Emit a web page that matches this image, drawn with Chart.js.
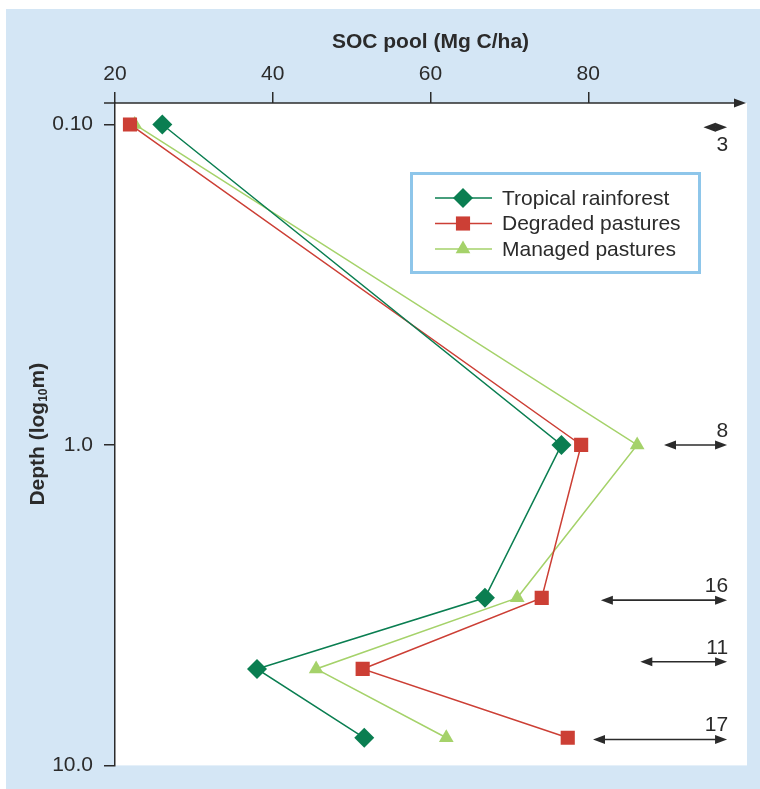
<!DOCTYPE html>
<html>
<head>
<meta charset="utf-8">
<script src="https://cdn.jsdelivr.net/npm/chart.js"></script>
<style>
  html, body { margin: 0; padding: 0; background: #fff; }
</style>
</head>
<body>
<canvas id="socChart" width="760" height="789"></canvas>
<script>
// depth (m) on a log axis, SOC pool (Mg C/ha) along the top
const depths = [0.1, 1.0, 3.0, 5.0, 8.2];
const rainforest = [26.0, 76.6, 66.9, 38.0, 51.6];
const degraded = [21.9, 79.1, 74.1, 51.4, 77.4];
const managed = [22.5, 86.2, 71.0, 45.5, 62.0];
const seriesNames = ['Tropical rainforest', 'Degraded pastures', 'Managed pastures'];

const xTicks = [20, 40, 60, 80];
const yTicks = [0.1, 1, 10];
const yTickLabels = ['0.10', '1.0', '10.0'];

// double arrows on the right, length = value
const rangeDepths = [0.102, 1.0, 3.05, 4.75, 8.3];
const rangeValues = [3, 8, 16, 11, 17];
const rangeEnd = 97.6;

const FONT = '"Liberation Sans", Arial, Helvetica, sans-serif';
const INK = '#2b2b2b';
Chart.defaults.font.family = FONT;
Chart.defaults.color = INK;

const toPoints = vals => vals.map((v, i) => ({ x: v, y: depths[i] }));

const backdrop = {
    id: 'backdrop',
    beforeDraw(chart) {
        const { ctx, chartArea: a } = chart;
        ctx.save();
        ctx.fillStyle = '#ffffff';
        ctx.fillRect(0, 0, chart.width, chart.height);
        ctx.fillStyle = '#d4e6f5';
        ctx.fillRect(6, 9, chart.width - 6, chart.height - 9);
        ctx.fillStyle = '#ffffff';
        ctx.fillRect(a.left, a.top, a.right - a.left + 1, a.bottom - a.top);
        ctx.restore();
    }
};

function arrowHead(ctx, x, y, dir, len, half) {
    ctx.beginPath();
    ctx.moveTo(x, y);
    ctx.lineTo(x - dir * len, y - half);
    ctx.lineTo(x - dir * len, y + half);
    ctx.closePath();
    ctx.fill();
}

const extras = {
    id: 'extras',
    afterDraw(chart) {
        const { ctx, chartArea: a } = chart;
        const xs = chart.scales.x, ys = chart.scales.y;
        ctx.save();

        // top axis line with arrow
        ctx.strokeStyle = INK;
        ctx.fillStyle = INK;
        ctx.lineWidth = 1.5;
        ctx.beginPath();
        ctx.moveTo(104, a.top);
        ctx.lineTo(a.right - 8, a.top);
        ctx.stroke();
        arrowHead(ctx, a.right, a.top, 1, 12, 4.5);

        // range arrows
        ctx.font = '21px ' + FONT;
        ctx.textAlign = 'right';
        ctx.textBaseline = 'alphabetic';
        rangeValues.forEach((v, i) => {
            const y = ys.getPixelForValue(rangeDepths[i]);
            const x2 = xs.getPixelForValue(rangeEnd);
            const x1 = xs.getPixelForValue(rangeEnd - v);
            ctx.lineWidth = 1.6;
            ctx.beginPath();
            ctx.moveTo(x1 + 5, y);
            ctx.lineTo(x2 - 5, y);
            ctx.stroke();
            arrowHead(ctx, x2, y, 1, 12, 4.5);
            arrowHead(ctx, x1, y, -1, 12, 4.5);
            const ty = i === 0 ? y + 24 : y - 8;
            ctx.fillText(String(v), x2 + 1, ty);
        });

        // y title with subscript
        ctx.translate(38, (a.top + a.bottom) / 2);
        ctx.rotate(-Math.PI / 2);
        const big = 'bold 21px ' + FONT, small = 'bold 12px ' + FONT;
        ctx.font = big; const w1 = ctx.measureText('Depth (log').width;
        const w3 = ctx.measureText('m)').width;
        ctx.font = small; const w2 = ctx.measureText('10').width;
        let x = -(w1 + w2 + w3) / 2;
        ctx.textAlign = 'left';
        ctx.textBaseline = 'middle';
        ctx.font = big; ctx.fillText('Depth (log', x, 0); x += w1;
        ctx.font = small; ctx.fillText('10', x, 6); x += w2;
        ctx.font = big; ctx.fillText('m)', x, 0);
        ctx.setTransform(1, 0, 0, 1, 0, 0);

        // legend box
        ctx.strokeStyle = '#8ec6ea';
        ctx.lineWidth = 3;
        ctx.strokeRect(411.5, 173.5, 288, 99);
        ctx.font = '21px ' + FONT;
        ctx.textAlign = 'left';
        ctx.textBaseline = 'middle';
        chart.data.datasets.forEach((ds, i) => {
            const y = 198 + i * 25.5;
            ctx.strokeStyle = ds.borderColor;
            ctx.lineWidth = 1.5;
            ctx.beginPath();
            ctx.moveTo(435, y);
            ctx.lineTo(492, y);
            ctx.stroke();
            ctx.fillStyle = ds.backgroundColor;
            Chart.helpers.drawPoint(ctx, {
                pointStyle: ds.pointStyle, radius: ds.pointRadius, rotation: 0, borderWidth: 0
            }, 463, y);
            ctx.fillStyle = INK;
            ctx.fillText(ds.label, 502, y + 1);
        });
        ctx.restore();
    }
};

new Chart(document.getElementById('socChart'), {
    type: 'line',
    data: {
        datasets: [
            {
                label: seriesNames[0], data: toPoints(rainforest),
                borderColor: '#0a7e51', backgroundColor: '#0a7e51',
                pointStyle: 'rectRot', pointRadius: 10
            },
            {
                label: seriesNames[1], data: toPoints(degraded),
                borderColor: '#cc3f35', backgroundColor: '#cc3f35',
                pointStyle: 'rect', pointRadius: 10
            },
            {
                label: seriesNames[2], data: toPoints(managed),
                borderColor: '#a5d26a', backgroundColor: '#a5d26a',
                pointStyle: 'triangle', pointRadius: 8.5
            }
        ].map(ds => Object.assign(ds, { borderWidth: 1.5, pointBorderWidth: 0, tension: 0 }))
    },
    options: {
        responsive: false,
        animation: false,
        devicePixelRatio: 1,
        layout: { padding: { top: 0, left: 0, right: 14, bottom: 23 } },
        plugins: { legend: { display: false }, tooltip: { enabled: false } },
        scales: {
            x: {
                type: 'linear', position: 'top', min: 20, max: 100,
                afterFit: s => { s.height = 103; },
                afterBuildTicks: s => { s.ticks = xTicks.map(v => ({ value: v })); },
                border: { display: false },
                grid: { drawOnChartArea: false, drawTicks: true, tickLength: 11, color: INK, lineWidth: 1.5 },
                ticks: { font: { size: 21 }, padding: 5, maxRotation: 0, autoSkip: false },
                title: {
                    display: true, text: 'SOC pool (Mg C/ha)',
                    font: { size: 21, weight: 'bold' }, padding: { top: 30, bottom: 0 }
                }
            },
            y: {
                type: 'logarithmic', reverse: true, min: 0.0857, max: 10,
                afterFit: s => { s.width = 115; },
                afterBuildTicks: s => { s.ticks = yTicks.map(v => ({ value: v })); },
                border: { display: true, color: INK, width: 1.5 },
                grid: { drawOnChartArea: false, drawTicks: true, tickLength: 11, color: INK, lineWidth: 1.5 },
                ticks: {
                    font: { size: 21 }, padding: 11, autoSkip: false,
                    callback: (v, i) => yTickLabels[i]
                }
            }
        }
    },
    plugins: [backdrop, extras]
});
</script>
</body>
</html>
